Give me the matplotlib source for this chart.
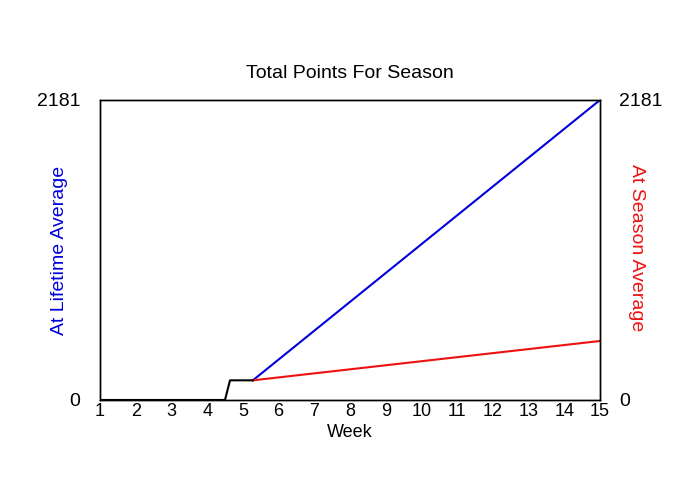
import matplotlib
matplotlib.use("Agg")
import matplotlib.pyplot as plt

plt.rcParams['font.family'] = ['Liberation Sans', 'DejaVu Sans']

# total points so far (black), then projections
actual_weeks = [1, 4.5, 4.64, 5.28]
actual_pts = [0, 0, 143, 143]

lifetime_weeks = [5.28, 15]
lifetime_pts = [143, 2181]

season_weeks = [5.28, 15]
season_pts = [143, 429]

week_ticks = list(range(1, 16))
y_max = 2181

fig = plt.figure(figsize=(7, 5), dpi=100)
ax = fig.add_axes([100 / 700, 100 / 500, 500 / 700, 300 / 500])

ax.plot(lifetime_weeks, lifetime_pts, color='#0000dd', linewidth=1.5)
ax.plot(season_weeks, season_pts, color='#ee1111', linewidth=1.5)
ax.plot(actual_weeks, actual_pts, color='black', linewidth=1.5)

ax.set_xlim(1, 15)
ax.set_ylim(0, y_max)
ax.set_xticks(week_ticks)
ax.set_xticklabels([str(w) for w in week_ticks], fontsize=13)
ax.set_yticks([0, y_max])
ax.set_yticklabels(['0', str(y_max)], fontsize=14)
ax.tick_params(axis='x', length=0, pad=2)
ax.tick_params(axis='y', length=0, pad=14)

ax2 = ax.twinx()
ax2.set_ylim(0, y_max)
ax2.set_yticks([0, y_max])
ax2.set_yticklabels(['0', str(y_max)], fontsize=14)
ax2.tick_params(axis='y', length=0, pad=14)

for a in (ax, ax2):
    for s in a.spines.values():
        s.set_linewidth(1.0)

ax.set_title('Total Points For Season', fontsize=14, pad=16)
ax.set_xlabel('Week', fontsize=13, labelpad=3)

fig.text(60 / 700, 1 - 250 / 500, 'At Lifetime Average', fontsize=14, color='#0000dd',
         rotation=90, ha='center', va='center')
fig.text(637 / 700, 1 - 248 / 500, 'At Season Average', fontsize=14, color='#ee1111',
         rotation=270, ha='center', va='center')

fig.savefig('out.png', dpi=100)
